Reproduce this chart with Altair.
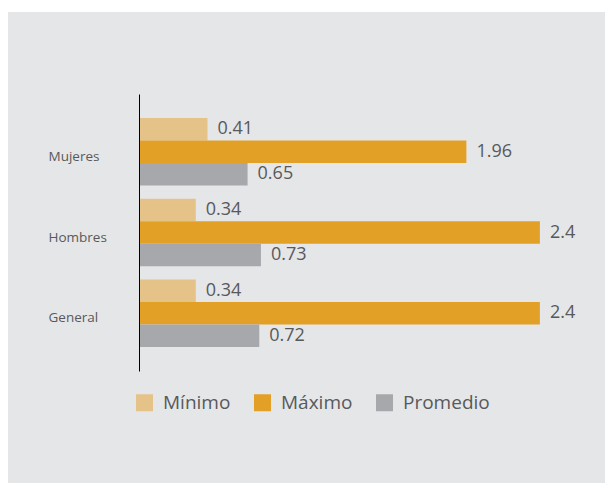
import altair as alt
import pandas as pd

categories = ["Mujeres", "Hombres", "General"]
series = ["Mínimo", "Máximo", "Promedio"]
minimo = [0.41, 0.34, 0.34]
maximo = [1.96, 2.4, 2.4]
promedio = [0.65, 0.73, 0.72]
labels_min = ["0.41", "0.34", "0.34"]
labels_max = ["1.96", "2.4", "2.4"]
labels_prom = ["0.65", "0.73", "0.72"]
colors = ["#e5c287", "#e3a026", "#a7a8ab"]

rows = []
for i, c in enumerate(categories):
    for s, vals, labs in zip(series, [minimo, maximo, promedio], [labels_min, labels_max, labels_prom]):
        rows.append({"cat": c, "serie": s, "valor": vals[i], "etiqueta": labs[i]})
df = pd.DataFrame(rows)

TEXT = "#58595b"
FONT = "Open Sans"

y_enc = alt.Y("cat:N", sort=categories,
              scale=alt.Scale(paddingInner=0.164, paddingOuter=0.297),
              axis=alt.Axis(title=None, domain=True, domainColor="#000000", domainWidth=1,
                            ticks=False, tickSize=0, labelAlign="left", labelPadding=91,
                            labelOffset=5, labelFontSize=13.5, labelColor=TEXT, labelFont=FONT,
                            grid=False, zindex=1))
yoff = alt.YOffset("serie:N", sort=series, scale=alt.Scale(paddingInner=0, paddingOuter=0))
x_enc = alt.X("valor:Q", scale=alt.Scale(domain=[0, 2.7], nice=False), axis=None)

bg = alt.Chart(pd.DataFrame({"a": [0]})).mark_rect(color="#e5e6e8").encode(
    x=alt.value(-131), x2=alt.value(466), y=alt.value(-82), y2=alt.value(389))

bars = alt.Chart(df).mark_bar().encode(
    y=y_enc, yOffset=yoff, x=x_enc,
    color=alt.Color("serie:N", sort=series,
                    scale=alt.Scale(domain=series, range=colors),
                    legend=alt.Legend(title=None, orient="none", legendX=-4, legendY=299,
                                      direction="horizontal", symbolType="square",
                                      symbolSize=289, symbolStrokeWidth=0, labelFontSize=19,
                                      labelColor=TEXT, labelFont=FONT, labelOffset=9,
                                      columnPadding=22, zindex=1)),
)

text = alt.Chart(df).mark_text(align="left", baseline="middle", dx=10, fontSize=18,
                               color=TEXT, font=FONT).encode(
    y=alt.Y("cat:N", sort=categories), yOffset=alt.YOffset("serie:N", sort=series),
    x="valor:Q", text="etiqueta:N")

chart = alt.layer(bg, bars, text).properties(
    width=451, height=277,
    padding={"left": 139, "top": 94, "right": 19, "bottom": 116},
    autosize=alt.AutoSizeParams(type="none"),
    background="#ffffff",
).configure_view(stroke=None)

chart.save("out.html", embed_options={"renderer": "svg", "actions": False})
